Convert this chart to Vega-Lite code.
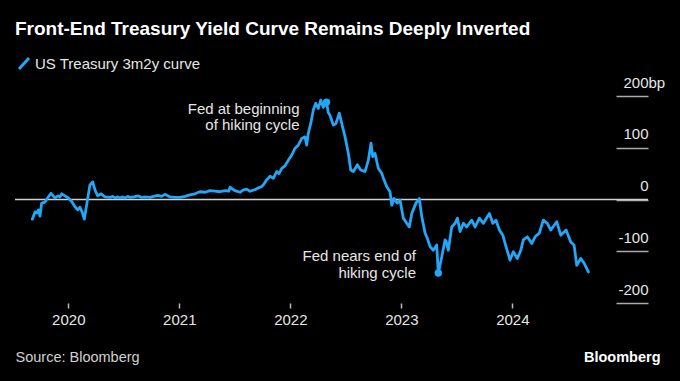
{
  "$schema": "https://vega.github.io/schema/vega-lite/v6.json",
  "width": 633,
  "height": 207,
  "autosize": "none",
  "padding": {"left": 15, "top": 96, "right": 32, "bottom": 78},
  "background": "#000000",
  "config": {"view": {"stroke": null}, "font": "Liberation Sans"},
  "title": {"text": "Front-End Treasury Yield Curve Remains Deeply Inverted", "anchor": "start", "frame": "group", "orient": "top", "fontSize": 19, "fontWeight": "bold", "color": "#ffffff", "font": "Liberation Sans", "baseline": "alphabetic", "offset": -2},
  "datasets": {
    "curve": [
      {"year": 2019.676, "bp": -38}, {"year": 2019.690, "bp": -30}, {"year": 2019.700, "bp": -24}, {"year": 2019.715, "bp": -26}, {"year": 2019.730, "bp": -20}, {"year": 2019.745, "bp": -32},
      {"year": 2019.760, "bp": -7}, {"year": 2019.790, "bp": -5}, {"year": 2019.814, "bp": 3}, {"year": 2019.844, "bp": 12}, {"year": 2019.860, "bp": 8},
      {"year": 2019.880, "bp": 3}, {"year": 2019.907, "bp": 7}, {"year": 2019.925, "bp": 5}, {"year": 2019.941, "bp": 11}, {"year": 2019.970, "bp": 7},
      {"year": 2020.000, "bp": 3}, {"year": 2020.031, "bp": -4}, {"year": 2020.060, "bp": -14}, {"year": 2020.085, "bp": -20}, {"year": 2020.105, "bp": -15},
      {"year": 2020.126, "bp": -25}, {"year": 2020.144, "bp": -38}, {"year": 2020.168, "bp": -7}, {"year": 2020.195, "bp": 28}, {"year": 2020.220, "bp": 34},
      {"year": 2020.241, "bp": 18}, {"year": 2020.265, "bp": 7}, {"year": 2020.295, "bp": 11}, {"year": 2020.331, "bp": 5}, {"year": 2020.376, "bp": 4},
      {"year": 2020.400, "bp": 6}, {"year": 2020.421, "bp": 3}, {"year": 2020.445, "bp": 5}, {"year": 2020.466, "bp": 3}, {"year": 2020.490, "bp": 5}, {"year": 2020.511, "bp": 3},
      {"year": 2020.535, "bp": 6}, {"year": 2020.556, "bp": 4}, {"year": 2020.590, "bp": 5}, {"year": 2020.628, "bp": 7}, {"year": 2020.660, "bp": 4}, {"year": 2020.691, "bp": 5},
      {"year": 2020.736, "bp": 4}, {"year": 2020.770, "bp": 6}, {"year": 2020.808, "bp": 8}, {"year": 2020.840, "bp": 6}, {"year": 2020.871, "bp": 10},
      {"year": 2020.916, "bp": 5}, {"year": 2020.961, "bp": 4}, {"year": 2021.006, "bp": 4}, {"year": 2021.051, "bp": 6}, {"year": 2021.096, "bp": 9},
      {"year": 2021.141, "bp": 11}, {"year": 2021.186, "bp": 15}, {"year": 2021.232, "bp": 14}, {"year": 2021.277, "bp": 17}, {"year": 2021.322, "bp": 16},
      {"year": 2021.367, "bp": 15}, {"year": 2021.412, "bp": 17}, {"year": 2021.445, "bp": 16}, {"year": 2021.457, "bp": 24}, {"year": 2021.480, "bp": 20}, {"year": 2021.502, "bp": 17},
      {"year": 2021.547, "bp": 14}, {"year": 2021.574, "bp": 18}, {"year": 2021.607, "bp": 20}, {"year": 2021.637, "bp": 16}, {"year": 2021.682, "bp": 19},
      {"year": 2021.709, "bp": 22}, {"year": 2021.742, "bp": 25}, {"year": 2021.763, "bp": 30}, {"year": 2021.787, "bp": 38}, {"year": 2021.817, "bp": 45},
      {"year": 2021.847, "bp": 41}, {"year": 2021.877, "bp": 54}, {"year": 2021.898, "bp": 50}, {"year": 2021.923, "bp": 60}, {"year": 2021.952, "bp": 65},
      {"year": 2021.982, "bp": 76}, {"year": 2022.013, "bp": 86}, {"year": 2022.042, "bp": 99}, {"year": 2022.072, "bp": 105}, {"year": 2022.103, "bp": 118},
      {"year": 2022.132, "bp": 121}, {"year": 2022.148, "bp": 105}, {"year": 2022.162, "bp": 128}, {"year": 2022.184, "bp": 147}, {"year": 2022.207, "bp": 173},
      {"year": 2022.229, "bp": 186}, {"year": 2022.252, "bp": 176}, {"year": 2022.274, "bp": 192}, {"year": 2022.297, "bp": 178}, {"year": 2022.326, "bp": 188},
      {"year": 2022.342, "bp": 168}, {"year": 2022.357, "bp": 163}, {"year": 2022.387, "bp": 144}, {"year": 2022.411, "bp": 147}, {"year": 2022.441, "bp": 167},
      {"year": 2022.463, "bp": 147}, {"year": 2022.493, "bp": 121}, {"year": 2022.523, "bp": 89}, {"year": 2022.544, "bp": 57}, {"year": 2022.568, "bp": 54},
      {"year": 2022.604, "bp": 67}, {"year": 2022.634, "bp": 57}, {"year": 2022.673, "bp": 54}, {"year": 2022.703, "bp": 76}, {"year": 2022.727, "bp": 109},
      {"year": 2022.742, "bp": 83}, {"year": 2022.763, "bp": 89}, {"year": 2022.793, "bp": 60}, {"year": 2022.823, "bp": 51}, {"year": 2022.844, "bp": 38},
      {"year": 2022.868, "bp": 25}, {"year": 2022.898, "bp": 15}, {"year": 2022.914, "bp": -11}, {"year": 2022.934, "bp": 2}, {"year": 2022.964, "bp": -7},
      {"year": 2022.988, "bp": -1}, {"year": 2023.018, "bp": -36}, {"year": 2023.049, "bp": -46}, {"year": 2023.072, "bp": -53}, {"year": 2023.094, "bp": -27},
      {"year": 2023.132, "bp": -7}, {"year": 2023.162, "bp": 2}, {"year": 2023.184, "bp": -33}, {"year": 2023.214, "bp": -65}, {"year": 2023.234, "bp": -75},
      {"year": 2023.259, "bp": -91}, {"year": 2023.288, "bp": -98}, {"year": 2023.319, "bp": -88}, {"year": 2023.333, "bp": -142}, {"year": 2023.364, "bp": -111},
      {"year": 2023.394, "bp": -78}, {"year": 2023.403, "bp": -80}, {"year": 2023.423, "bp": -98}, {"year": 2023.454, "bp": -53}, {"year": 2023.484, "bp": -46},
      {"year": 2023.505, "bp": -36}, {"year": 2023.529, "bp": -62}, {"year": 2023.559, "bp": -46}, {"year": 2023.589, "bp": -53}, {"year": 2023.634, "bp": -40},
      {"year": 2023.664, "bp": -53}, {"year": 2023.703, "bp": -36}, {"year": 2023.739, "bp": -46}, {"year": 2023.793, "bp": -27}, {"year": 2023.824, "bp": -46},
      {"year": 2023.853, "bp": -40}, {"year": 2023.883, "bp": -59}, {"year": 2023.914, "bp": -69}, {"year": 2023.943, "bp": -91}, {"year": 2023.979, "bp": -117},
      {"year": 2024.009, "bp": -101}, {"year": 2024.045, "bp": -114}, {"year": 2024.076, "bp": -98}, {"year": 2024.099, "bp": -78}, {"year": 2024.135, "bp": -72},
      {"year": 2024.175, "bp": -85}, {"year": 2024.205, "bp": -72}, {"year": 2024.243, "bp": -65}, {"year": 2024.279, "bp": -40}, {"year": 2024.315, "bp": -46},
      {"year": 2024.346, "bp": -59}, {"year": 2024.400, "bp": -43}, {"year": 2024.436, "bp": -69}, {"year": 2024.484, "bp": -59}, {"year": 2024.526, "bp": -82},
      {"year": 2024.556, "bp": -88}, {"year": 2024.580, "bp": -127}, {"year": 2024.616, "bp": -114}, {"year": 2024.646, "bp": -123}, {"year": 2024.685, "bp": -140}
    ],
    "dots": [
      {"year": 2022.326, "bp": 188},
      {"year": 2023.333, "bp": -142}
    ],
    "notes": [
      {"label": "Fed at beginning", "year": 2022.083, "bp": 174},
      {"label": "of hiking cycle", "year": 2022.083, "bp": 144},
      {"label": "Fed nears end of", "year": 2023.132, "bp": -110},
      {"label": "hiking cycle", "year": 2023.132, "bp": -142}
    ]
  },
  "layer": [
    {
      "data": {"values": [{}]},
      "mark": {"type": "rule", "color": "#d0d0d0", "strokeWidth": 1.5},
      "encoding": {"y": {"datum": 0, "type": "quantitative"}}
    },
    {
      "data": {"name": "curve"},
      "mark": {"type": "line", "strokeWidth": 2.8, "strokeJoin": "round", "strokeCap": "round"},
      "encoding": {
        "x": {
          "field": "year", "type": "quantitative",
          "scale": {"domain": [2019.52, 2025.222], "nice": false, "zero": false},
          "axis": {
            "values": [2020, 2021, 2022, 2023, 2024], "format": "d",
            "domain": false, "grid": false, "ticks": true, "tickSize": 5, "tickColor": "#bbbbbb", "tickWidth": 1.5,
            "labelFontSize": 15, "labelColor": "#e6e6e6", "labelPadding": 4, "labelFlush": false,
            "title": "Source: Bloomberg", "titleAnchor": "start", "titleAlign": "left", "titleX": 0, "titleY": 54,
            "titleBaseline": "middle", "titleFontSize": 14.5, "titleFontWeight": "normal", "titleColor": "#d0d0d0"
          }
        },
        "y": {
          "field": "bp", "type": "quantitative",
          "scale": {"domain": [-200, 200], "nice": false},
          "axis": {
            "orient": "right", "offset": -32, "values": [-200, -100, 0, 100, 200],
            "domain": false, "grid": false, "ticks": true, "tickSize": 32, "tickColor": "#aaaaaa", "tickWidth": 1.5,
            "labelAlign": {"condition": {"test": "datum.value === 200", "value": "left"}, "value": "right"},
            "labelPadding": {"condition": {"test": "datum.value === 200", "value": -25}, "value": 0},
            "labelBaseline": "alphabetic", "labelOffset": -9, "labelFontSize": 15, "labelColor": "#e6e6e6",
            "labelExpr": "datum.value === 200 ? '200bp' : '' + datum.value",
            "title": "Bloomberg", "titleAngle": 0, "titleAlign": "right", "titleBaseline": "middle",
            "titleX": 44, "titleY": 261, "titleFontSize": 14.5, "titleFontWeight": "bold", "titleColor": "#ffffff"
          }
        },
        "color": {
          "datum": "US Treasury 3m2y curve",
          "scale": {"range": ["#21a6f8"]},
          "legend": {
            "orient": "none", "legendX": -2.5, "legendY": -44, "title": null, "padding": 0,
            "symbolType": "M-0.5,0.55L0.5,-0.55", "symbolSize": 400, "symbolStrokeWidth": 3,
            "symbolFillColor": "transparent", "labelFontSize": 15, "labelColor": "#e6e6e6", "labelOffset": -0.5, "labelLimit": 0
          }
        }
      }
    },
    {
      "data": {"name": "dots"},
      "mark": {"type": "circle", "size": 55, "opacity": 1, "color": "#21a6f8"},
      "encoding": {
        "x": {"field": "year", "type": "quantitative"},
        "y": {"field": "bp", "type": "quantitative"}
      }
    },
    {
      "data": {"name": "notes"},
      "mark": {"type": "text", "align": "right", "baseline": "middle", "fontSize": 15, "color": "#e6e6e6"},
      "encoding": {
        "x": {"field": "year", "type": "quantitative"},
        "y": {"field": "bp", "type": "quantitative"},
        "text": {"field": "label"}
      }
    }
  ]
}
